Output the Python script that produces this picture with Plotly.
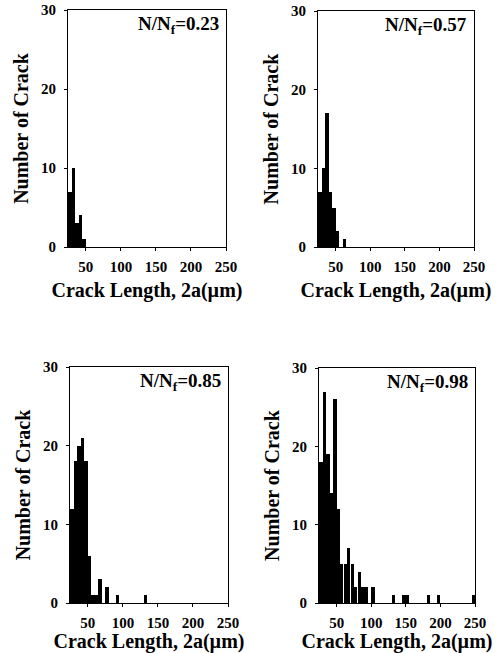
import plotly.graph_objects as go

# ---- data (bin lower edge, µm; count) ----
bins_023 = [25, 30, 35, 40, 45]
counts_023 = [7, 10, 3, 4, 1]

bins_057 = [25, 30, 35, 40, 45, 50, 55, 60]
counts_057 = [7, 10, 17, 7, 5, 2, 0, 1]

bins_085 = [25, 30, 35, 40, 45, 50, 55, 60, 65, 70, 75, 80, 85, 90, 130]
counts_085 = [12, 18, 20, 21, 18, 6, 1, 1, 3, 0, 2, 0, 0, 1, 1]

bins_098 = [25, 30, 35, 40, 45, 50, 55, 60, 65, 70, 75, 80, 85, 90, 95, 100,
            130, 145, 150, 180, 195, 245]
counts_098 = [18, 27, 19, 14, 26, 12, 5, 5, 7, 5, 2, 4, 2, 2, 0, 2,
              1, 1, 1, 1, 1, 1]

labels = ["0.23", "0.57", "0.85", "0.98"]
x_ticks = [50, 100, 150, 200, 250]
y_ticks = [0, 10, 20, 30]
BIN_W = 5

panels = [(bins_023, counts_023), (bins_057, counts_057),
          (bins_085, counts_085), (bins_098, counts_098)]

W, H = 502, 653
# plot-area pixel boxes (left, right, top, bottom)
boxes = [(68, 226, 10, 247), (318, 474, 11, 247),
         (70, 228, 367, 603), (319, 475, 368, 603)]

FONT = "Liberation Serif"
fig = go.Figure()
for i, ((b, c), lab, (l, r, t, bt)) in enumerate(zip(panels, labels, boxes)):
    n = "" if i == 0 else str(i + 1)
    fig.add_trace(go.Bar(x=[v + BIN_W / 2 for v in b], y=c, width=BIN_W * 0.94,
                         marker=dict(color="black", line=dict(width=0)),
                         xaxis="x" + n, yaxis="y" + n, showlegend=False))
    tickfont = dict(family=FONT, size=15, color="black", weight="bold")
    titlefont = dict(family=FONT, size=20, color="black", weight="bold")
    fig.layout["xaxis" + n] = dict(
        domain=[l / W, r / W], anchor="y" + n, range=[24.5, 250], automargin=False,
        tickvals=x_ticks, ticks="outside", ticklen=3, tickcolor="black",
        showline=True, linecolor="black", linewidth=1, mirror=True,
        showgrid=False, zeroline=False, tickfont=tickfont, ticklabelstandoff=3,
        title=dict(text="Crack Length, 2a(µm)", font=titlefont, standoff=8))
    fig.layout["yaxis" + n] = dict(
        domain=[1 - bt / H, 1 - t / H], anchor="x" + n, range=[0, 30], automargin=False,
        tickvals=y_ticks, ticks="outside", ticklen=3, tickcolor="black",
        showline=True, linecolor="black", linewidth=1, mirror=True,
        showgrid=False, zeroline=False, tickfont=tickfont, ticklabelstandoff=5,
        title=dict(text="Number of Crack", font=titlefont, standoff=7))
    fig.add_annotation(x=(r - 5) / W, y=1 - (t + 15) / H, xref="paper", yref="paper",
                       xanchor="right", yanchor="middle", showarrow=False,
                       text="N/N<sub>f</sub>=" + lab,
                       font=dict(family=FONT, size=19, color="black", weight="bold"))

fig.update_layout(width=W, height=H, margin=dict(l=0, r=0, t=0, b=0),
                  plot_bgcolor="white", paper_bgcolor="white", bargap=0)
fig.write_html("out.html")
